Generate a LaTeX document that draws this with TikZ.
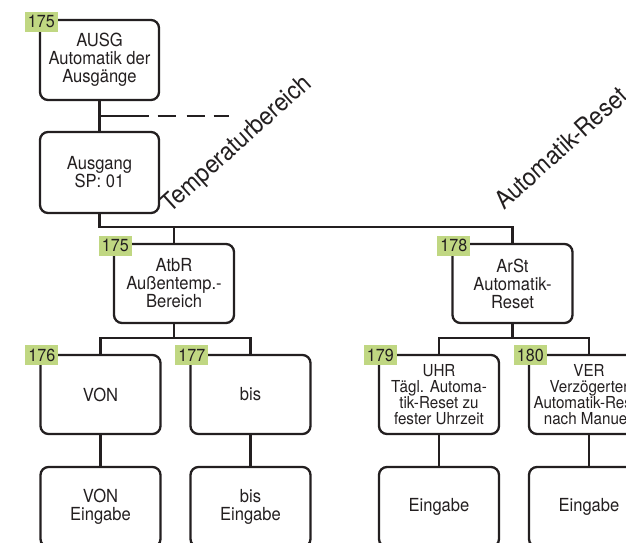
\documentclass[tikz,border=0pt]{standalone}
\usepackage{fontspec}
\setmainfont{TeX Gyre Heros}[FakeStretch=0.92]
\definecolor{lab}{RGB}{192,215,130}
\definecolor{ink}{RGB}{35,31,32}
\begin{document}
\begin{tikzpicture}[x=1pt,y=-1pt,
  box/.style={draw=ink, text=ink, line width=2.3pt, rounded corners=8pt, minimum width=120pt, minimum height=80pt, inner sep=0pt, align=center, font=\fontsize{18}{18}\selectfont},
  smalltxt/.style={font=\fontsize{16.5}{15.5}\selectfont},
  tag/.style={fill=lab, text=ink, minimum width=33pt, minimum height=20pt, inner sep=0pt, font=\fontsize{17.5}{17.5}\selectfont},
  link/.style={draw=ink, line width=2.3pt},
  diag/.style={text=ink, font=\fontsize{25}{25}\selectfont, rotate=42, anchor=base west, inner sep=0pt}]
\useasboundingbox (0,0) rectangle (626,542);
\clip (0,0) rectangle (626,542);

% boxes
\node[box, minimum width=119pt] (ausg) at (99.5,60) {AUSG\\Automatik der\\Ausgänge};
\node[box, minimum width=119pt, minimum height=81pt] (ausgang) at (99.5,172.5) {Ausgang\\SP: 01};
\node[box, minimum height=79pt] (atbr) at (174,283.5) {AtbR\\Außentemp.-\\Bereich};
\node[box, minimum height=79pt] (arst) at (512.5,283.5) {ArSt\\Automatik-\\Reset};
\node[box, minimum height=79pt] (von) at (100.5,394.5) {VON};
\node[box, minimum height=79pt] (bis) at (250.5,394.5) {bis};
\node[box, smalltxt, minimum height=79pt] (uhr) at (439,394.5) {UHR\\Tägl. Automa-\\tik-Reset zu\\fester Uhrzeit};
\node[box, smalltxt, minimum height=79pt] (ver) at (589,394.5) {VER\\Verzögerter\\Automatik-Reset\\nach Manuell};
\node[box] (vone) at (100.5,507) {VON\\Eingabe};
\node[box] (bise) at (250.5,507) {bis\\Eingabe};
\node[box] (uhre) at (439,507) {Eingabe};
\node[box] (vere) at (589,507) {Eingabe};

% connectors
\coordinate (d0) at (99.5,116);
\coordinate (d1) at (229,116);
\coordinate (bus) at (0,227);
\coordinate (bus2) at (0,338);
\draw[link] (ausg.south) -- (ausgang.north);
\draw[link, dash pattern=on 49pt off 9pt on 18pt off 11pt on 18pt off 9pt on 16pt off 30pt] (d0) -- (d1);
\draw[link] (ausgang.south) |- (arst.north |- bus) -- (arst.north);
\draw[link] (atbr.north) -- (atbr.north |- bus);
\draw[link] (atbr.south) -- (atbr.south |- bus2);
\draw[link] (von.north) |- (bis.north |- bus2) -- (bis.north);
\draw[link] (arst.south) -- (arst.south |- bus2);
\draw[link] (uhr.north) |- (ver.north |- bus2) -- (ver.north);
\draw[link] (von.south) -- (vone.north);
\draw[link] (bis.south) -- (bise.north);
\draw[link] (uhr.south) -- (uhre.north);
\draw[link] (ver.south) -- (vere.north);

% tags
\node[tag] (t1) at ([shift={(2.5,3)}]ausg.north west) {175};
\node[tag] (t2) at ([shift={(2.5,3)}]atbr.north west) {175};
\node[tag] (t3) at ([shift={(2.5,3)}]arst.north west) {178};
\node[tag] (t4) at ([shift={(2.5,1.5)}]von.north west) {176};
\node[tag] (t5) at ([shift={(2.5,1.5)}]bis.north west) {177};
\node[tag] (t6) at ([shift={(2.5,1.5)}]uhr.north west) {179};
\node[tag] (t7) at ([shift={(2.5,1.5)}]ver.north west) {180};

% rotated labels
\node[diag] (temp) at (170,214) {Temperaturbereich};
\node[diag] (ares) at (504,211) {Automatik-Reset};
\end{tikzpicture}
\end{document}
